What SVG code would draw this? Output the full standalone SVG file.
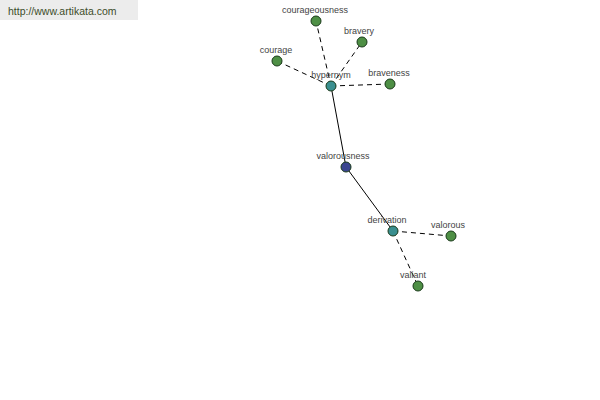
<svg xmlns="http://www.w3.org/2000/svg" width="600" height="400" viewBox="0 0 600 400">
<style>
.lbl{font-family:"Liberation Sans",Arial,sans-serif;font-size:9px;fill:#444;text-anchor:middle}
.n{stroke:#1a3a1a;stroke-width:1}
.g{fill:#4e8f45}
.t{fill:#3a8f8f}
.b{fill:#3b4690}
.c{stroke:#000;stroke-width:1;fill:none}
.d{stroke-dasharray:5,4}
</style>
<rect width="600" height="400" fill="#fff"/>
<rect x="0" y="0" width="138" height="20" fill="#ececec"/>
<text x="8" y="15" font-family="'Liberation Sans',Arial,sans-serif" font-size="10.5" fill="#3d4d2a">http://www.artikata.com</text>
<g id="connectors">
<line class="c d" x1="331" y1="86" x2="316" y2="21"/>
<line class="c d" x1="331" y1="86" x2="362" y2="42"/>
<line class="c d" x1="331" y1="86" x2="277" y2="61"/>
<line class="c d" x1="331" y1="86" x2="390" y2="84"/>
<line class="c" x1="331" y1="86" x2="346" y2="167"/>
<line class="c" x1="346" y1="167" x2="393" y2="231"/>
<line class="c d" x1="393" y1="231" x2="451" y2="236"/>
<line class="c d" x1="393" y1="231" x2="418" y2="286"/>
</g>
<g id="courageousness"><circle class="n g" cx="316" cy="21" r="5"/><text class="lbl" x="315" y="13">courageousness</text></g>
<g id="bravery"><circle class="n g" cx="362" cy="42" r="5"/><text class="lbl" x="359" y="34">bravery</text></g>
<g id="courage"><circle class="n g" cx="277" cy="61" r="5"/><text class="lbl" x="276" y="53">courage</text></g>
<g id="braveness"><circle class="n g" cx="390" cy="84" r="5"/><text class="lbl" x="389" y="76">braveness</text></g>
<g id="hypernym"><circle class="n t" cx="331" cy="86" r="5"/><text class="lbl" x="331" y="78">hypernym</text></g>
<g id="valorousness"><circle class="n b" cx="346" cy="167" r="5"/><text class="lbl" x="343" y="159">valorousness</text></g>
<g id="derivation"><circle class="n t" cx="393" cy="231" r="5"/><text class="lbl" x="387" y="223">derivation</text></g>
<g id="valorous"><circle class="n g" cx="451" cy="236" r="5"/><text class="lbl" x="448" y="228">valorous</text></g>
<g id="valiant"><circle class="n g" cx="418" cy="286" r="5"/><text class="lbl" x="413" y="278">valiant</text></g>
</svg>
